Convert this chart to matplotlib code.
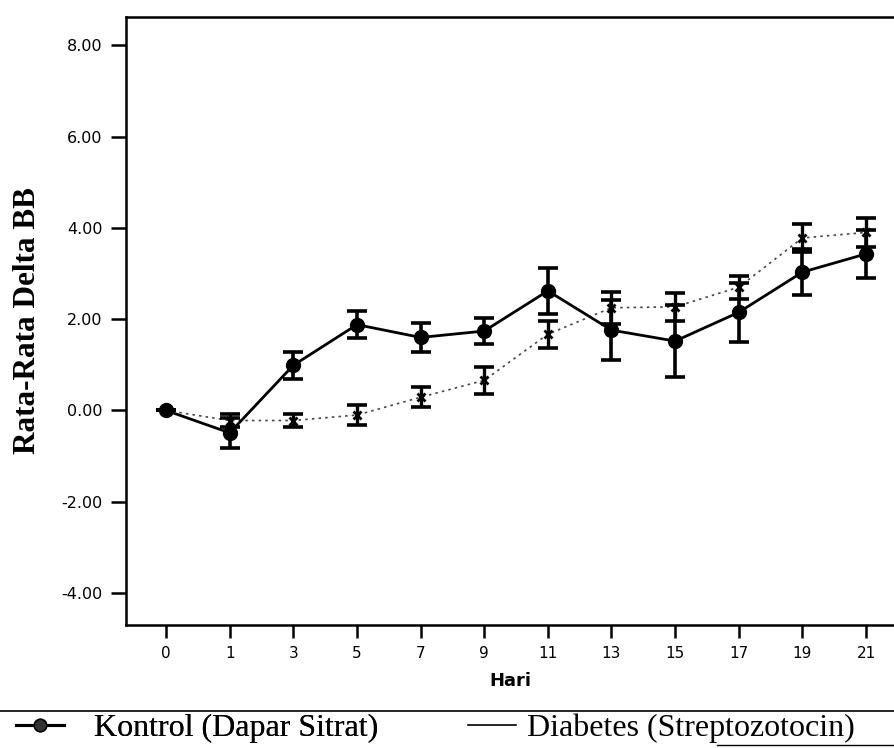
import matplotlib
matplotlib.use("Agg")
import matplotlib.pyplot as plt
from matplotlib.lines import Line2D
import numpy as np

days = ['0', '1', '3', '5', '7', '9', '11', '13', '15', '17', '19', '21']
kontrol = [0.00, -0.49, 0.99, 1.88, 1.60, 1.74, 2.62, 1.76, 1.52, 2.15, 3.03, 3.43]
kontrol_err = [0.00, 0.33, 0.29, 0.30, 0.31, 0.29, 0.50, 0.66, 0.78, 0.65, 0.50, 0.52]
diabetes = [0.00, -0.22, -0.22, -0.10, 0.29, 0.66, 1.67, 2.25, 2.27, 2.70, 3.78, 3.90]
diabetes_err = [0.00, 0.15, 0.15, 0.22, 0.22, 0.30, 0.30, 0.35, 0.30, 0.25, 0.30, 0.31]
yticks = [-4, -2, 0, 2, 4, 6, 8]

W, H = 894, 748
fig = plt.figure(figsize=(W / 100, H / 100), dpi=100)
ax = fig.add_axes([126 / W, 1 - 625 / H, 1 - 126 / W, (625 - 17) / H])

x = np.arange(len(days))

ax.errorbar(x, diabetes, yerr=diabetes_err, fmt='none', ecolor='black',
            elinewidth=2.4, capsize=7, capthick=2.6, zorder=3)
ax.plot(x, diabetes, linestyle=(0, (1.5, 2.5)), color='#444444', linewidth=1.2,
        marker='x', markersize=6, markeredgewidth=2, markeredgecolor='black', zorder=4)

ax.errorbar(x, kontrol, yerr=kontrol_err, fmt='none', ecolor='black',
            elinewidth=2.6, capsize=7, capthick=2.6, zorder=5)
ax.plot(x, kontrol, linestyle='-', color='black', linewidth=2,
        marker='o', markersize=10, markerfacecolor='black', markeredgecolor='black', zorder=6)

ax.set_xlim(-0.63, 11.44)
ax.set_ylim(-4.70, 8.62)
ax.set_xticks(x)
ax.set_xticklabels(days, fontsize=11, family='DejaVu Sans')
ax.set_yticks(yticks)
ax.set_yticklabels([f"{v:.2f}" for v in yticks], fontsize=11.5, family='DejaVu Sans')

ax.tick_params(axis='y', direction='out', length=11, width=1.8, pad=6)
ax.tick_params(axis='x', direction='out', length=9, width=1.8, pad=6)

for s in ['left', 'bottom', 'top']:
    ax.spines[s].set_linewidth(1.8)
ax.spines['right'].set_visible(False)

ax.set_xlabel('Hari', fontsize=13, fontweight='bold', family='DejaVu Sans', labelpad=8)
ax.set_ylabel('Rata-Rata Delta BB', fontsize=22.5, fontweight='bold',
              family='Liberation Serif', labelpad=14)

# separator line
fig.add_artist(Line2D([0, 1], [1 - 711 / H, 1 - 711 / H], transform=fig.transFigure,
                      color='black', linewidth=1.2))
fig.add_artist(Line2D([717 / W, 1], [1 - 745 / H, 1 - 745 / H], transform=fig.transFigure,
                      color='black', linewidth=1.0))

h1 = Line2D([], [], color='black', linewidth=2.2, marker='o', markersize=9,
            markerfacecolor='#333333', markeredgecolor='black')
h2 = Line2D([], [], color='black', linewidth=1.2)

leg1 = fig.legend([h1], ['Kontrol (Dapar Sitrat)'], loc='center left',
                  bbox_to_anchor=(16 / W, 1 - 728 / H), frameon=False,
                  prop={'family': 'Liberation Serif', 'size': 23},
                  handlelength=1.5, handletextpad=0.95, borderpad=0, borderaxespad=0)
leg2 = fig.legend([h2], ['Diabetes (Streptozotocin)'], loc='center left',
                  bbox_to_anchor=(468 / W, 1 - 728 / H), frameon=False,
                  prop={'family': 'Liberation Serif', 'size': 23},
                  handlelength=1.5, handletextpad=0.35, borderpad=0, borderaxespad=0)
fig.add_artist(leg1)

fig.savefig('out.png', dpi=100)
